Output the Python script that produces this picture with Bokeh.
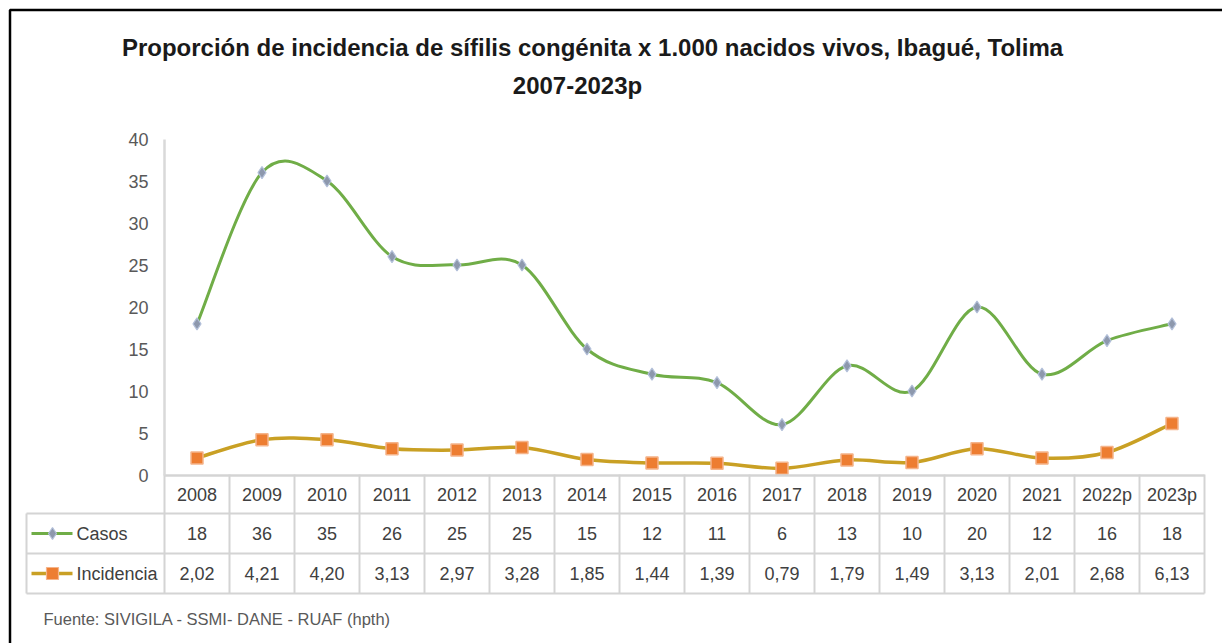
from bokeh.plotting import figure
from bokeh.models import Range1d, LinearAxis, FixedTicker
from bokeh.core.properties import value
from bokeh.embed import file_html
from bokeh.resources import INLINE

# ---------------- data ----------------
years = ["2008", "2009", "2010", "2011", "2012", "2013", "2014", "2015",
         "2016", "2017", "2018", "2019", "2020", "2021", "2022p", "2023p"]
casos = [18, 36, 35, 26, 25, 25, 15, 12, 11, 6, 13, 10, 20, 12, 16, 18]
incidencia = [2.02, 4.21, 4.20, 3.13, 2.97, 3.28, 1.85, 1.44, 1.39, 0.79,
              1.79, 1.49, 3.13, 2.01, 2.68, 6.13]
y_ticks = [0, 5, 10, 15, 20, 25, 30, 35, 40]
series_names = ["Casos", "Incidencia"]
title_lines = ["Proporción de incidencia de sífilis congénita x 1.000 nacidos vivos, Ibagué, Tolima",
               "2007-2023p"]
source_note = "Fuente: SIVIGILA - SSMI- DANE - RUAF (hpth)"

# ---------------- layout helpers (image pixel -> data) ----------------
W, H = 1222, 643
COL0, COLW = 196.5, 65.0
Y0, PXU = 474.5, 8.4


def X(px):
    return (px - COL0) / COLW


def Y(py):
    return (Y0 - py) / PXU


n = len(years)
idx = list(range(n))

TXT_FONT = "Liberation Sans"
TXT_COLOR = "#404040"
GRID = "#d4d4d4"
GREEN = "#70AD47"
GOLD = "#C9A024"
ORANGE = "#ED7D31"

p = figure(width=W, height=H, x_range=Range1d(X(0), X(W)),
           y_range=Range1d(Y(H), Y(0)), output_backend="svg",
           toolbar_location=None, x_axis_type=None, y_axis_type=None,
           min_border=0, outline_line_color=None)
p.grid.visible = False

# ---------------- axes ----------------
xax = LinearAxis(ticker=FixedTicker(ticks=idx),
                 major_label_overrides={i: y for i, y in enumerate(years)},
                 fixed_location=0, bounds=(-0.5, n - 0.5),
                 axis_line_color=GRID, axis_line_width=2.5,
                 major_tick_line_color=None, minor_tick_line_color=None,
                 major_tick_out=0, major_tick_in=0, major_label_standoff=10,
                 major_label_text_font=TXT_FONT, major_label_text_font_size="18px",
                 major_label_text_color=TXT_COLOR)
p.add_layout(xax, "below")

yax = LinearAxis(ticker=FixedTicker(ticks=y_ticks), fixed_location=-0.5,
                 bounds=(0, 40), axis_line_color="#d9d9d9", axis_line_width=2.5,
                 major_tick_line_color=None, minor_tick_line_color=None,
                 major_tick_out=0, major_tick_in=0, major_label_standoff=16,
                 major_label_text_font=TXT_FONT, major_label_text_font_size="18px",
                 major_label_text_color="#595959")
p.add_layout(yax, "left")


# ---------------- smoothed lines (Excel-like bezier) ----------------
def smooth(xs, ys):
    d = dict(x0=[], y0=[], x1=[], y1=[], cx0=[], cy0=[], cx1=[], cy1=[])
    m = len(xs)
    for i in range(m - 1):
        a = i - 1 if i > 0 else i
        b = i + 2 if i + 2 < m else i + 1
        d["x0"].append(xs[i]); d["y0"].append(ys[i])
        d["x1"].append(xs[i + 1]); d["y1"].append(ys[i + 1])
        d["cx0"].append(xs[i] + (xs[i + 1] - xs[a]) / 6)
        d["cy0"].append(ys[i] + (ys[i + 1] - ys[a]) / 6)
        d["cx1"].append(xs[i + 1] - (xs[b] - xs[i]) / 6)
        d["cy1"].append(ys[i + 1] - (ys[b] - ys[i]) / 6)
    return d


bc = smooth(idx, casos)
p.bezier(x0=bc["x0"], y0=bc["y0"], x1=bc["x1"], y1=bc["y1"], cx0=bc["cx0"],
         cy0=bc["cy0"], cx1=bc["cx1"], cy1=bc["cy1"], line_color=GREEN,
         line_width=3, line_cap="round")
bi = smooth(idx, incidencia)
p.bezier(x0=bi["x0"], y0=bi["y0"], x1=bi["x1"], y1=bi["y1"], cx0=bi["cx0"],
         cy0=bi["cy0"], cx1=bi["cx1"], cy1=bi["cy1"], line_color=GOLD,
         line_width=3.5, line_cap="round")
p.scatter(idx, casos, marker="diamond", size=12, fill_color="#8d98ad",
          line_color="#b3c0da", line_width=1.2)
p.scatter(idx, incidencia, marker="square", size=12, fill_color=ORANGE,
          line_color="#f5b48a", line_width=1.5)

# ---------------- data table ----------------
row_top, row1, row2, row_bot = 474, 513, 553, 593
p.multi_line(xs=[[k - 0.5, k - 0.5] for k in range(n + 1)],
             ys=[[Y(row_top), Y(row_bot)] for _ in range(n + 1)],
             line_color=GRID, line_width=2)
p.multi_line(xs=[[X(26), n - 0.5]] * 3,
             ys=[[Y(r), Y(r)] for r in (row1, row2, row_bot)],
             line_color=GRID, line_width=2)
p.line(x=[X(26), X(26)], y=[Y(row1), Y(row_bot)], line_color=GRID, line_width=2)

p.text(x=idx, y=[Y(533)] * n, text=[str(c) for c in casos],
       text_align="center", text_baseline="middle", text_font=value(TXT_FONT),
       text_font_size="18px", text_color=TXT_COLOR)
p.text(x=idx, y=[Y(573)] * n,
       text=[f"{v:.2f}".replace(".", ",") for v in incidencia],
       text_align="center", text_baseline="middle", text_font=value(TXT_FONT),
       text_font_size="18px", text_color=TXT_COLOR)

# legend keys in table
for name, ypx, col, lw, mk, fc, lc, sz in [
        (series_names[0], 533, GREEN, 3, "diamond", "#8d98ad", "#b3c0da", 12),
        (series_names[1], 573, GOLD, 3.5, "square", ORANGE, "#f5b48a", 12)]:
    p.line(x=[X(31), X(72)], y=[Y(ypx), Y(ypx)], line_color=col, line_width=lw)
    p.scatter(x=[X(52)], y=[Y(ypx)], marker=mk, size=sz, fill_color=fc,
              line_color=lc, line_width=1.2)
    p.text(x=[X(76)], y=[Y(ypx)], text=[name], text_align="left",
           text_baseline="middle", text_font=value(TXT_FONT),
           text_font_size="18px", text_color=TXT_COLOR)

# ---------------- titles / notes ----------------
p.text(x=[X(592)], y=[Y(47)], text=[title_lines[0]], text_align="center",
       text_baseline="middle", text_font=value("Liberation Sans"),
       text_font_style="bold", text_font_size="24px", text_color="#1a1a1a")
p.text(x=[X(577)], y=[Y(85)], text=[title_lines[1]], text_align="center",
       text_baseline="middle", text_font=value("Liberation Sans"),
       text_font_style="bold", text_font_size="24px", text_color="#1a1a1a")
p.text(x=[X(43)], y=[Y(618)], text=[source_note], text_align="left",
       text_baseline="middle", text_font=value(TXT_FONT),
       text_font_size="16.5px", text_color="#595959")

# outer border (left and top visible)
p.line(x=[X(9.5), X(9.5), X(1260)], y=[Y(680), Y(9.5), Y(9.5)],
       line_color="black", line_width=2.5)

open("out.html", "w").write(file_html(p, INLINE))
